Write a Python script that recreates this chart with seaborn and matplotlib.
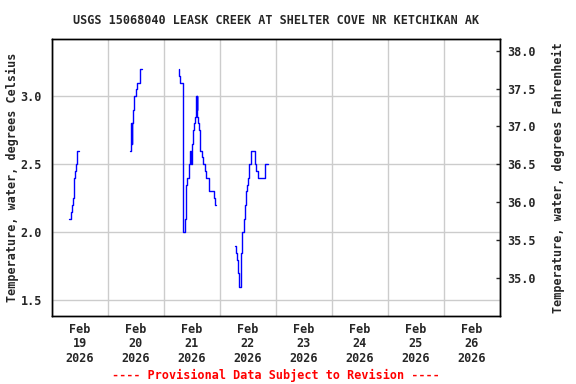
import matplotlib

matplotlib.use("Agg")

import matplotlib.dates as mdates
import matplotlib.pyplot as plt
import matplotlib.ticker as mticker
import pandas as pd
import seaborn as sns

# ---------------------------------------------------------------------------
# Data: hours after 2026-02-19 00:00 and water temperature (deg C)
# ---------------------------------------------------------------------------

START = pd.Timestamp("2026-02-19")

seg1_hours = [7.4, 8.4, 8.8, 9.25, 9.7, 10.1, 10.55, 11.0, 11.6]
seg1_temp = [2.10, 2.15, 2.20, 2.25, 2.40, 2.45, 2.50, 2.60, 2.60]

seg2_hours = [33.7, 33.9, 34.1, 34.35, 34.55, 35.0, 35.4, 36.25, 36.7, 38.0, 38.6]
seg2_temp = [2.60, 2.75, 2.80, 2.65, 2.80, 2.90, 3.00, 3.05, 3.10, 3.20, 3.20]

seg3_hours = [54.55, 54.7, 55.0, 56.15, 56.4, 57.25, 57.7, 58.1, 58.7, 59.4,
              59.65, 60.15, 60.55, 61.0, 61.45, 61.85, 62.05, 62.2, 62.4, 62.85,
              63.25, 63.7, 64.55, 65.0, 65.85, 66.25, 67.55, 69.7, 70.15, 70.55]
seg3_temp = [3.20, 3.15, 3.10, 2.55, 2.00, 2.10, 2.35, 2.40, 2.50, 2.60,
             2.50, 2.65, 2.75, 2.80, 2.85, 3.00, 2.90, 3.00, 2.85, 2.80,
             2.75, 2.60, 2.55, 2.50, 2.45, 2.40, 2.30, 2.25, 2.20, 2.20]

seg4_hours = [78.7, 78.9, 79.5, 80.0, 80.3, 81.25, 81.7, 82.55, 83.0, 83.4,
              83.85, 84.25, 84.7, 85.55, 87.25, 87.7, 88.15, 91.55, 92.6]
seg4_temp = [1.90, 1.85, 1.80, 1.70, 1.60, 1.85, 2.00, 2.10, 2.20, 2.30,
             2.35, 2.40, 2.50, 2.60, 2.50, 2.45, 2.40, 2.50, 2.50]

c_ticks = [1.5, 2.0, 2.5, 3.0]
f_ticks = [35.0, 35.5, 36.0, 36.5, 37.0, 37.5, 38.0]
c_lim = (1.385, 3.42)

TITLE = "USGS 15068040 LEASK CREEK AT SHELTER COVE NR KETCHIKAN AK"
FOOTER = "---- Provisional Data Subject to Revision ----"

# ---------------------------------------------------------------------------
# Build frame
# ---------------------------------------------------------------------------

frames = []
for i, (hrs, tmp) in enumerate(
    [(seg1_hours, seg1_temp), (seg2_hours, seg2_temp),
     (seg3_hours, seg3_temp), (seg4_hours, seg4_temp)]
):
    frames.append(pd.DataFrame({
        "time": START + pd.to_timedelta(hrs, unit="h"),
        "temp": tmp,
        "seg": i,
    }))
df = pd.concat(frames, ignore_index=True)

# ---------------------------------------------------------------------------
# Plot
# ---------------------------------------------------------------------------

sns.set_style("white")
plt.rcParams["font.family"] = ["DejaVu Sans Mono"]
plt.rcParams["font.weight"] = "bold"
plt.rcParams["axes.titleweight"] = "bold"
plt.rcParams["axes.labelweight"] = "bold"
FS = 8.5

fig = plt.figure(figsize=(5.76, 3.84), dpi=100)
ax = fig.add_axes([51.7 / 576, 1 - 316 / 384, (500 - 51.7) / 576, (316 - 39) / 384])

sns.lineplot(
    data=df, x="time", y="temp", units="seg", estimator=None,
    drawstyle="steps-post", color="#0000ff", linewidth=1.0, ax=ax, legend=False,
)

ax.set_xlim(START, START + pd.Timedelta(days=8))
ax.set_ylim(*c_lim)
ax.set_yticks(c_ticks)
ax.yaxis.set_major_formatter(mticker.FormatStrFormatter("%.1f"))

ax.xaxis.set_major_locator(mdates.DayLocator())
ax.xaxis.set_major_formatter(mticker.NullFormatter())
ax.xaxis.set_minor_locator(mdates.HourLocator(byhour=[12]))
ax.xaxis.set_minor_formatter(mdates.DateFormatter("%b\n%d\n%Y"))

ax.grid(True, which="major", color="#cccccc", linewidth=1.0)
ax.tick_params(axis="x", which="both", length=0, pad=5, labelsize=FS)
ax.tick_params(axis="y", length=0, pad=7, labelsize=FS)
for lbl in ax.get_xticklabels(minor=True):
    lbl.set_linespacing(1.15)

for sp in ax.spines.values():
    sp.set_color("black")
    sp.set_linewidth(1.0)

ax.set_xlabel("")
ax.set_ylabel("Temperature, water, degrees Celsius", fontsize=FS)
ax.yaxis.set_label_coords(-0.073, 0.5)
ax.set_title(TITLE, fontsize=FS, pad=11)

# Fahrenheit twin axis
ax2 = ax.twinx()
ax2.set_ylim(c_lim[0] * 1.8 + 32, c_lim[1] * 1.8 + 32)
ax2.set_yticks(f_ticks)
ax2.yaxis.set_major_formatter(mticker.FormatStrFormatter("%.1f"))
ax2.tick_params(axis="y", direction="in", length=3, width=1, pad=5, labelsize=FS)
ax2.set_ylabel("Temperature, water, degrees Fahrenheit", fontsize=FS)
ax2.yaxis.set_label_coords(1.116, 0.5)
for sp in ax2.spines.values():
    sp.set_color("black")
    sp.set_linewidth(1.0)

fig.text(276 / 576, 1 - 375 / 384, FOOTER, color="#ff0000", fontsize=FS,
         ha="center", va="center")

fig.savefig("out.png", dpi=100)
